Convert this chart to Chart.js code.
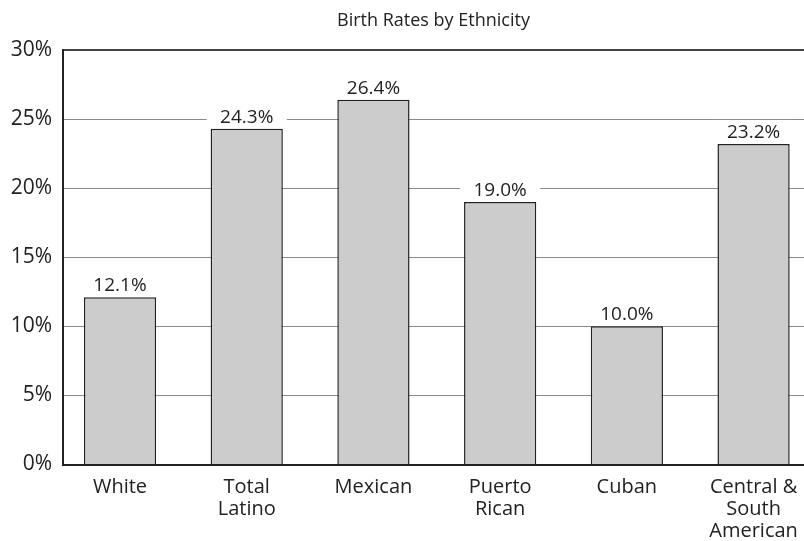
<!DOCTYPE html>
<html>
<head>
<meta charset="utf-8">
<script src="https://cdn.jsdelivr.net/npm/chart.js@4"></script>
<style>
  html, body { margin: 0; padding: 0; background: #fff; }
  #wrap { width: 804px; height: 541px; }
</style>
</head>
<body>
<div id="wrap"><canvas id="c" width="804" height="541"></canvas></div>
<script>
const title = 'Birth Rates by Ethnicity';
const categories = [['White'], ['Total', 'Latino'], ['Mexican'], ['Puerto', 'Rican'], ['Cuban'], ['Central &', 'South', 'American']];
const rates = [12.1, 24.3, 26.4, 19.0, 10.0, 23.2];
const yTicks = [0, 5, 10, 15, 20, 25, 30];

const FONT = "'Open Sans', sans-serif";
const INK = '#222';

// title centred over the plot, value labels on white boxes that cut the grid
const decor = {
  id: 'decor',
  afterDraw(chart) {
    const { ctx, chartArea } = chart;
    ctx.save();
    ctx.fillStyle = INK;
    ctx.font = '18px ' + FONT;
    ctx.textAlign = 'center';
    ctx.textBaseline = 'middle';
    ctx.fillText(title, (chartArea.left + chartArea.right) / 2, 21);

    ctx.font = '19px ' + FONT;
    ctx.textBaseline = 'alphabetic';
    chart.getDatasetMeta(0).data.forEach((bar, i) => {
      const txt = rates[i].toFixed(1) + '%';
      const base = bar.y - 6;
      ctx.fillStyle = '#fff';
      ctx.fillRect(bar.x - 40, base - 18, 80, 21);
      ctx.fillStyle = INK;
      ctx.fillText(txt, bar.x, base);
    });
    ctx.restore();
  }
};

new Chart(document.getElementById('c'), {
  type: 'bar',
  data: {
    datasets: [{
      data: rates.map((v, i) => ({ x: i, y: v })),
      backgroundColor: '#cccccc',
      borderColor: INK,
      borderWidth: 1.5,
      borderSkipped: 'bottom',
      categoryPercentage: 1,
      barPercentage: 0.57
    }]
  },
  options: {
    responsive: false,
    animation: false,
    layout: { padding: { top: 50, left: 0, right: 0, bottom: 0 } },
    plugins: { legend: { display: false }, tooltip: { enabled: false } },
    scales: {
      x: {
        type: 'linear',
        bounds: 'data',
        offset: false,
        min: -0.45,
        max: 5.398,
        afterBuildTicks: axis => { axis.ticks = categories.map((_, i) => ({ value: i })); },
        afterFit: axis => { axis.height = 76.5; },
        grid: { display: false, offset: false },
        border: { color: INK, width: 2 },
        ticks: {
          autoSkip: false, maxRotation: 0, padding: 4,
          color: INK, font: { family: FONT, size: 20, lineHeight: 1.1 },
          callback: v => categories[v]
        }
      },
      y: {
        min: 0, max: 30,
        afterBuildTicks: axis => { axis.ticks = yTicks.map(v => ({ value: v })); },
        afterFit: axis => { axis.width = 63; },
        grid: {
          drawTicks: false,
          color: c => c.tick && c.tick.value === 30 ? '#444' : '#8a8a8a',
          lineWidth: c => c.tick && c.tick.value === 30 ? 2 : 1
        },
        border: { color: INK, width: 2 },
        ticks: {
          padding: 11, color: INK,
          font: { family: FONT, size: 21 },
          callback: v => v + '%'
        }
      }
    }
  },
  plugins: [decor]
});
</script>
</body>
</html>
